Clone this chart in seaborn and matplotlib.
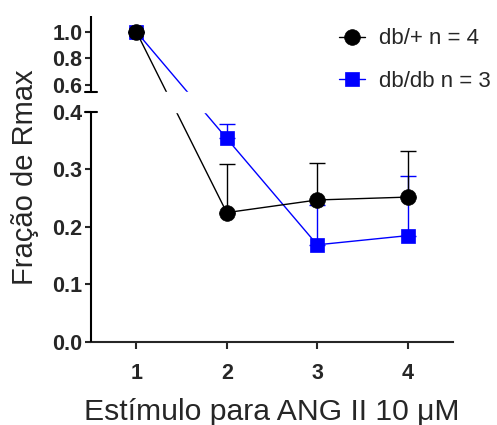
import numpy as np
import pandas as pd
import matplotlib
matplotlib.use("Agg")
import matplotlib.pyplot as plt
import seaborn as sns

# Dados
estimulo = [1, 2, 3, 4]
db_mais = [1.0, 0.225, 0.247, 0.252]
db_mais_erro = [0.0, 0.085, 0.064, 0.081]
db_db = [1.0, 0.354, 0.169, 0.185]
db_db_erro = [0.0, 0.025, 0.07, 0.103]
rotulos = ["db/+ n = 4", "db/db n = 3"]
yticks = [0.0, 0.1, 0.2, 0.3, 0.4, 0.6, 0.8, 1.0]

sns.set_style("ticks")
plt.rcParams["font.family"] = ["Liberation Sans", "DejaVu Sans"]

# Eixo y quebrado: 0-0.4 embaixo, 0.547-1.117 em cima (escala comprimida)
xp = [-1.0, 0.4, 0.547, 3.0]
fp = [-575.0, 230.0, 250.0, 250.0 + (3.0 - 0.547) * 133.3]

def forward(v):
    return np.interp(v, xp, fp)

def inverse(p):
    return np.interp(p, fp, xp)

fig = plt.figure(figsize=(4.97, 4.25), dpi=100)
ax = fig.add_axes([91 / 497, 83 / 425, 362 / 497, 326 / 425])

df1 = pd.DataFrame({"x": estimulo, "y": db_mais})
df2 = pd.DataFrame({"x": estimulo, "y": db_db})

ax.errorbar(estimulo, db_db, yerr=[np.zeros(4), db_db_erro], fmt="none",
            ecolor="blue", elinewidth=1, capsize=5.5, capthick=1, zorder=1.5)
sns.lineplot(data=df2, x="x", y="y", ax=ax, color="blue", marker="s",
             markersize=10.5, markeredgecolor="blue", markeredgewidth=0.5,
             linewidth=1, label=rotulos[1], zorder=2)
ax.errorbar(estimulo, db_mais, yerr=[np.zeros(4), db_mais_erro], fmt="none",
            ecolor="black", elinewidth=1, capsize=5.5, capthick=1, zorder=2.5)
sns.lineplot(data=df1, x="x", y="y", ax=ax, color="black", marker="o",
             markersize=11.3, markeredgecolor="black", markeredgewidth=0.5,
             linewidth=1, label=rotulos[0], zorder=3)

ax.set_yscale("function", functions=(forward, inverse))
ax.set_ylim(0, 1.117)
ax.set_xlim(0.5, 4.5)

# lacuna da quebra
ax.axhspan(0.4, 0.547, color="white", zorder=4)

ax.set_xticks(estimulo)
ax.set_yticks(yticks)
ax.set_yticklabels([f"{t:.1f}" for t in yticks])
ax.yaxis.set_minor_locator(matplotlib.ticker.NullLocator())
for lab in ax.get_xticklabels() + ax.get_yticklabels():
    lab.set_fontweight("bold")
    lab.set_fontsize(15.5)

sns.despine(ax=ax)
ax.spines["left"].set_visible(False)
ax.spines["bottom"].set_linewidth(1.5)
ax.tick_params(axis="y", direction="out", length=4.3, width=1.5, pad=2)
ax.tick_params(axis="x", direction="out", length=5, width=1.5, pad=10)

# eixo y desenhado em duas partes com marcas de quebra
tr = ax.get_yaxis_transform()
d = 0.017
ax.plot([0, 0], [0, 0.4], transform=tr, color="black", lw=1.5, clip_on=False, zorder=6, solid_capstyle="butt")
ax.plot([0, 0], [0.547, 1.117], transform=tr, color="black", lw=1.5, clip_on=False, zorder=6, solid_capstyle="butt")
ax.plot([-d, d], [0.4, 0.4], transform=tr, color="black", lw=1.5, clip_on=False, zorder=6)
ax.plot([-d, d], [0.547, 0.547], transform=tr, color="black", lw=1.5, clip_on=False, zorder=6)

ax.set_xlabel("Estímulo para ANG II 10 μM", fontsize=21.7, labelpad=10)
ax.set_ylabel("Fração de Rmax", fontsize=21)
ax.yaxis.set_label_coords(-0.144, 0.505)

h, l = ax.get_legend_handles_labels()
order = [l.index(rotulos[0]), l.index(rotulos[1])]
ax.legend([h[i] for i in order], [l[i] for i in order], frameon=False,
          fontsize=16, loc="center left", bbox_to_anchor=(0.66, 0.865),
          handlelength=1.2, handletextpad=0.6, labelspacing=0.95,
          borderaxespad=0)

fig.savefig("out.png", dpi=100)
